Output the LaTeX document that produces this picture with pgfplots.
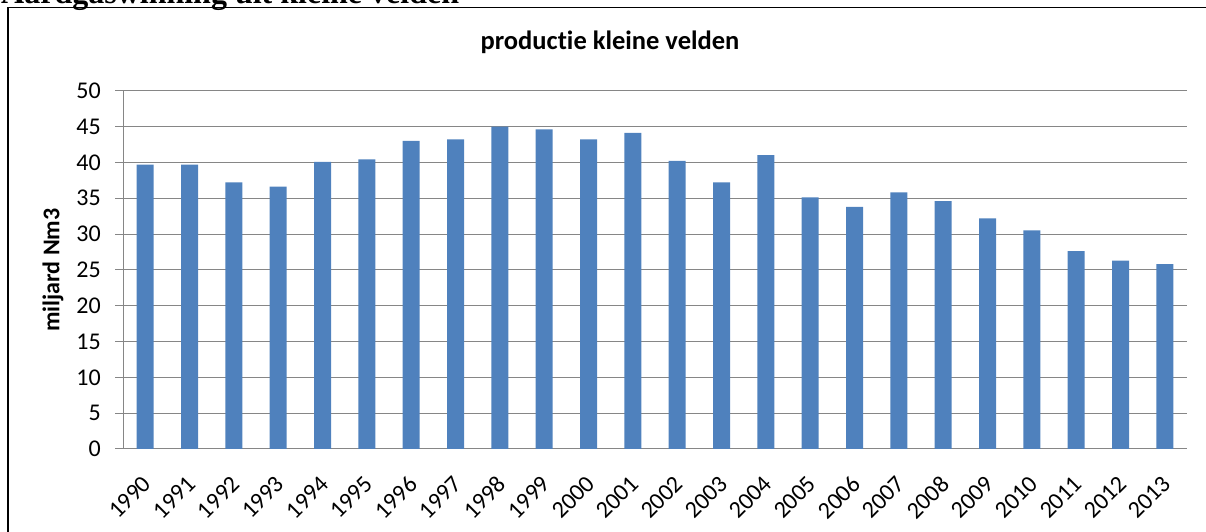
\documentclass[border=0pt]{standalone}
\usepackage{pgfplots}
\pgfplotsset{compat=1.18}
\usepackage{fontspec}
\setmainfont{Carlito}[Ligatures=NoCommon]
\newfontfamily\serifb{Liberation Serif}
\definecolor{barblue}{RGB}{79,129,189}
\definecolor{gridgray}{RGB}{134,134,134}
\begin{document}
\begin{tikzpicture}[x=1pt,y=1pt]
\useasboundingbox (0,0) rectangle (1206,532);
\node[anchor=base west, inner sep=0pt, font=\serifb\bfseries\fontsize{32}{36}\selectfont] at (1,528.3) {Aardgaswinning uit kleine velden};
\draw[line width=1.5pt] (8,-5) -- (8,524.3) -- (1215,524.3);
\node[font=\bfseries\fontsize{26.5}{30}\selectfont] at (610,490) {productie kleine velden};
\node[rotate=90, font=\bfseries\fontsize{24}{28}\selectfont] at (53,262) {miljard Nm3};
\begin{axis}[
  at={(123pt,83pt)}, anchor=south west, scale only axis,
  width=1064pt, height=358.3pt,
  xmin=-0.5, xmax=23.5, ymin=0, ymax=50,
  ytick={0,5,...,50},
  xtick={0,...,23},
  xticklabels={1990,1991,1992,1993,1994,1995,1996,1997,1998,1999,2000,2001,2002,2003,2004,2005,2006,2007,2008,2009,2010,2011,2012,2013},
  axis x line*=bottom, axis y line*=left,
  axis line style={gridgray, line width=1pt, -},
  ymajorgrids, major grid style={gridgray, line width=1pt},
  tick align=outside,
  major tick length=8pt,
  y tick style={gridgray, line width=1pt},
  x tick style={draw=none},
  /pgf/number format/assume math mode=true,
  tick label style={font=\fontsize{24}{28}\selectfont},
  yticklabel style={anchor=east, inner sep=0pt, xshift=-14pt},
  xticklabel style={inner sep=0pt, xshift=2pt, yshift=-23pt, rotate=45, anchor=east},
  clip=false,
]
\addplot[ybar, bar width=17pt, bar shift=0pt, fill=barblue, draw=none] coordinates {
(0,39.7) (1,39.7) (2,37.2) (3,36.6) (4,40.05) (5,40.4) (6,43.0) (7,43.2)
(8,45.0) (9,44.6) (10,43.2) (11,44.1) (12,40.2) (13,37.2) (14,41.0) (15,35.1)
(16,33.8) (17,35.8) (18,34.6) (19,32.2) (20,30.5) (21,27.6) (22,26.3) (23,25.8)
};
\end{axis}
\end{tikzpicture}
\end{document}
